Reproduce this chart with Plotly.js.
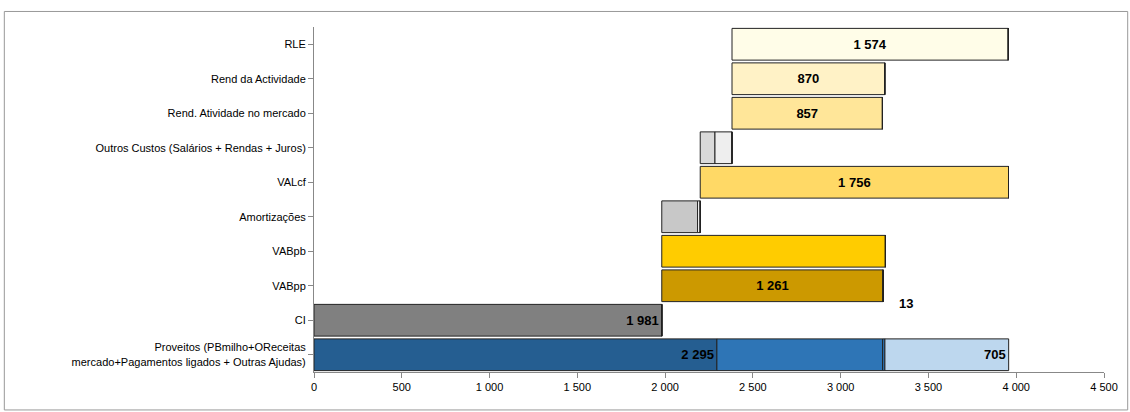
<!DOCTYPE html>
<html>
<head>
<script src="https://cdn.plot.ly/plotly-3.0.1.min.js"></script>
<style>body{margin:0;background:#fff}#plot{width:1130px;height:412px}</style>
</head>
<body>
<div id="plot"></div>
<script>
var categories = ['Proveitos (PBmilho+OReceitas<br>mercado+Pagamentos ligados + Outras Ajudas)', 'CI', 'VABpp', 'VABpb',
  'Amortizações', 'VALcf', 'Outros Custos (Salários + Rendas + Juros)', 'Rend. Atividade no mercado', 'Rend da Actividade', 'RLE'];
var starts = [0, 0, 1981, 1981, 1981, 2200, 2200, 2381, 2381, 2381];
var seg1 = [2295, 1981, 1261, 1274, 204, 1756, 84, 857, 870, 1574];
var seg2 = [944, 0, 0, 0, 15, 0, 97, 0, 0, 0];
var seg3 = [13, 0, 0, 0, 0, 0, 0, 0, 0, 0];
var seg4 = [705, 0, 0, 0, 0, 0, 0, 0, 0, 0];
var labelsMid = ['', '', '1 261', '', '', '1 756', '', '857', '870', '1 574'];
var labelsEnd = ['2 295', '1 981', '', '', '', '', '', '', '', ''];
var labels4 = ['705', '', '', '', '', '', '', '', '', ''];
var colors1 = ['#255e91', '#808080', '#cc9900', '#ffcc00', '#c8c8c8', '#ffd966', '#d9d9d9', '#ffe699', '#fff2c6', '#fffde8'];
var colors2 = ['#2e75b6', '#fff', '#fff', '#fff', '#ffffff', '#fff', '#eeeeee', '#fff', '#fff', '#fff'];

var segs = [seg1, seg2, seg3, seg4];
var bases = segs.map(function (s, k) {
  return starts.map(function (st, i) {
    var b = st;
    for (var j = 0; j < k; j++) b += segs[j][i];
    return b;
  });
});
var line = {color: '#222', width: 1};
var traces = [
  {x: seg1, base: bases[0], text: labelsMid, insidetextanchor: 'middle', marker: {color: colors1, line: line}},
  {x: seg1, base: bases[0], text: labelsEnd, insidetextanchor: 'end',
   marker: {color: 'rgba(0,0,0,0)', line: {width: 0}}},
  {x: seg2, base: bases[1], text: [], marker: {color: colors2, line: line}},
  {x: seg3, base: bases[2], text: [], marker: {color: '#2e75b6', line: line}},
  {x: seg4, base: bases[3], text: labels4, insidetextanchor: 'end', marker: {color: '#bdd7ee', line: line}}
].map(function (t) {
  t.y = categories; t.type = 'bar'; t.orientation = 'h'; t.hoverinfo = 'none';
  t.textposition = 'inside';
  t.textfont = {family: 'Arial, Liberation Sans', size: 13, color: '#000', weight: 'bold'};
  t.constraintext = 'none';
  return t;
});

var layout = {
  width: 1130, height: 412,
  margin: {l: 314, r: 26, t: 27, b: 40},
  barmode: 'overlay', bargap: 0.08, showlegend: false,
  font: {family: 'Arial, Liberation Sans', size: 11, color: '#000'},
  xaxis: {range: [0, 4500], dtick: 500, tickformat: ',d',
    showgrid: false, showline: true, linecolor: '#888', ticks: 'outside', ticklen: 5, tickcolor: '#888',
    zeroline: false, fixedrange: true},
  yaxis: {showgrid: false, showline: true, linecolor: '#888', ticks: 'outside', ticklen: 5, tickcolor: '#888',
    automargin: false},
  separators: '. ',
  annotations: [{x: seg3[0] + bases[2][0] + 120, y: 1.5, xref: 'x', yref: 'y', text: '<b>13</b>', showarrow: false,
    font: {size: 13}}],
  shapes: [{type: 'rect', xref: 'paper', yref: 'paper', x0: -0.392, x1: 1.03, y0: -0.11, y1: 1.045,
    line: {color: '#999', width: 1}}]
};
Plotly.newPlot('plot', traces, layout, {displayModeBar: false, staticPlot: true});
</script>
</body>
</html>
